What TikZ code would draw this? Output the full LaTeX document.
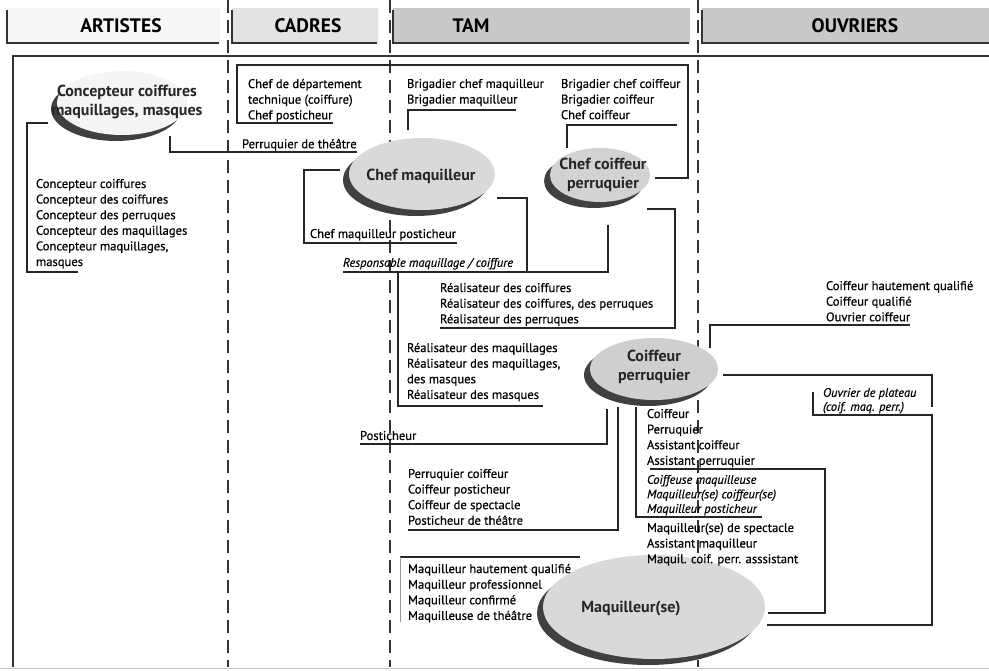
\documentclass[tikz,border=0pt]{standalone}
\usepackage{fontspec}
\setmainfont{PT Sans}
\newfontfamily\jobfont[FakeBold=0.5]{PT Sans}
\usetikzlibrary{shapes.geometric,shadows}
\begin{document}
\begin{tikzpicture}[x=1pt,y=-1pt,
  every node/.style={inner sep=0pt,outer sep=0pt},
  tabedge/.style={line width=2.6pt,black!80},
  tabtxt/.style={font=\fontsize{19.5}{22}\selectfont\bfseries},
  colsep/.style={line width=1.2pt,black!80,dash pattern=on 13pt off 7pt},
  frameline/.style={line width=1.2pt,black!80},
  wire/.style={line width=1.2pt,black!85},
  faint/.style={line width=0.6pt,black!40},
  txt/.style={anchor=north west,align=left,font=\jobfont\fontsize{12.6}{15.6}\selectfont},
  itxt/.style={anchor=north west,align=left,font=\jobfont\fontsize{12.4}{14.5}\selectfont\itshape},
  role/.style={ellipse,draw=none,fill=#1,
    drop shadow={shadow xshift=-6pt,shadow yshift=-6pt,fill=black!75,opacity=1}},
  roletxt/.style={align=center,text=black!85,font=\fontsize{16}{19.5}\selectfont\bfseries},
]
\useasboundingbox (0,0) rectangle (989,671);
\fill[white] (0,0) rectangle (989,671);

% column headers
\fill[gray!6]  (7,8)   rectangle (220,43);
\fill[gray!22] (232,8) rectangle (378,43);
\fill[gray!42] (393,8) rectangle (690,43);
\fill[gray!42] (702,8) rectangle (989,43);
\draw[tabedge] (7,10)   -- (7,43)   -- (219,43);
\draw[tabedge] (232,10) -- (232,43) -- (377,43);
\draw[tabedge] (393,10) -- (393,43) -- (689,43);
\draw[tabedge] (702,10) -- (702,43) -- (989,43);
\node[tabtxt] (hart) at (121,26) {ARTISTES};
\node[tabtxt] (hcad) at (308,26) {CADRES};
\node[tabtxt] (htam) at (471,26) {TAM};
\node[tabtxt] (houv) at (855,26) {OUVRIERS};

% frame and column separators
\draw[frameline] (12,56) -- (989,56);
\draw[frameline] (13,56) -- (13,667);
\draw[line width=1pt,gray!45] (0,668) -- (989,668);
\draw[colsep] (228,0) -- (228,667);
\draw[colsep] (390,0) -- (390,667);
\draw[colsep] (698,0) -- (698,667);

% role ellipses
\node[role=gray!8,  minimum width=130, minimum height=64]  (e1) at (122,103) {};
\node[role=gray!30, minimum width=146, minimum height=72]  (e2) at (422,174) {};
\node[role=gray!35, minimum width=100, minimum height=54]  (e3) at (600,175) {};
\node[role=gray!38, minimum width=128, minimum height=62]  (e4) at (654,369) {};
\node[role=gray!30, minimum width=222, minimum height=104] (e5) at (654,607) {};

\node[roletxt] (e1t) at (127,102) {Concepteur coiffures\\maquillages, masques};
\node[roletxt] (e2t) at (421,176) {Chef maquilleur};
\node[roletxt] (e3t) at (603,175) {Chef coiffeur\\perruquier};
\node[roletxt] (e4t) at (654,367) {Coiffeur\\perruquier};
\node[roletxt] (e5t) at (631,609) {Maquilleur(se)};

% job titles
\node[txt] (t1) at (36,179) {Concepteur coiffures\\Concepteur des coiffures\\Concepteur des perruques\\Concepteur des maquillages\\Concepteur maquillages,\\masques};
\node[txt] (t2) at (248,79) {Chef de département\\technique (coiffure)\\Chef posticheur};
\node[txt] (t3) at (242,139) {Perruquier de théâtre};
\node[txt] (t4) at (407,79) {Brigadier chef maquilleur\\Brigadier maquilleur};
\node[txt] (t5) at (561,79) {Brigadier chef coiffeur\\Brigadier coiffeur\\Chef coiffeur};
\node[txt] (t6) at (310,229) {Chef maquilleur posticheur};
\node[itxt] (t7) at (343,258) {Responsable maquillage / coiffure};
\node[txt] (t8) at (440,283) {Réalisateur des coiffures\\Réalisateur des coiffures, des perruques\\Réalisateur des perruques};
\node[txt] (t9) at (407,343) {Réalisateur des maquillages\\Réalisateur des maquillages,\\des masques\\Réalisateur des masques};
\node[txt] (t10) at (826,281) {Coiffeur hautement qualifié\\Coiffeur qualifié\\Ouvrier coiffeur};
\node[itxt,font=\jobfont\fontsize{12.4}{14}\selectfont\itshape] (t11) at (823,388) {Ouvrier de plateau\\(coif. maq. perr.)};
\node[txt] (t12) at (360,431) {Posticheur};
\node[txt] (t13) at (647,409) {Coiffeur\\Perruquier\\Assistant coiffeur\\Assistant perruquier};
\node[itxt] (t14) at (647,475) {Coiffeuse maquilleuse\\Maquilleur(se) coiffeur(se)\\Maquilleur posticheur};
\node[txt] (t15) at (647,523) {Maquilleur(se) de spectacle\\Assistant maquilleur\\Maquil. coif. perr. asssistant};
\node[txt] (t16) at (408,469) {Perruquier coiffeur\\Coiffeur posticheur\\Coiffeur de spectacle\\Posticheur de théâtre};
\node[txt] (t17) at (408,564) {Maquilleur hautement qualifié\\Maquilleur professionnel\\Maquilleur confirmé\\Maquilleuse de théâtre};

\coordinate (resp) at (398,272);

% connectors
\draw[wire] (e1.center) ++(-74,20) -| ++(-21,149) -- ++(51,0);
\draw[wire] (e1.center) ++(48,33) |- ++(187,16);
\draw[wire] (e2.center) ++(-14,-44) |- ++(108,-20);
\draw[wire] (e2.center) ++(-82,-4) -| ++(-36,73) -- ++(153,0);
\draw[wire] (e2.center) ++(75,24) -| ++(30,74);
\draw[wire] (e3.center) ++(-33,-27) |- ++(110,-23);
\draw[wire] (e3.center) ++(55,3) -| ++(33,-113) -| ++(-451,58) -- ++(96,0);
\draw[wire] (e3.center) ++(8,50) |- ++(-265,47);
\draw[wire] (e3.center) ++(47,34) -| ++(28,119) -- ++(-235,0);
\draw[wire] (resp) |- ++(145,134);
\draw[wire] (e4.center) ++(56,-21) |- ++(200,-23);
\draw[wire] (e4.center) ++(69,6) -| ++(209,32);
\draw[wire] (e4.center) ++(-47,40) |- ++(-247,35);
\draw[wire] (e4.center) ++(-36,38) |- ++(-210,123);
\draw[wire] (e4.center) ++(-18,38) |- ++(126,110);
\draw[wire] (e5.center) ++(113,18) -| ++(165,-210) -| ++(-119,-23);
\draw[wire] (e5.center) ++(114,6) -| ++(57,-144) -- ++(-175,0);
\draw[wire] (t17.north west) ++(172,-7) -- ++(-180,0);
\draw[faint] (t17.north west) ++(-8,-7) -- ++(0,65);
\end{tikzpicture}
\end{document}
